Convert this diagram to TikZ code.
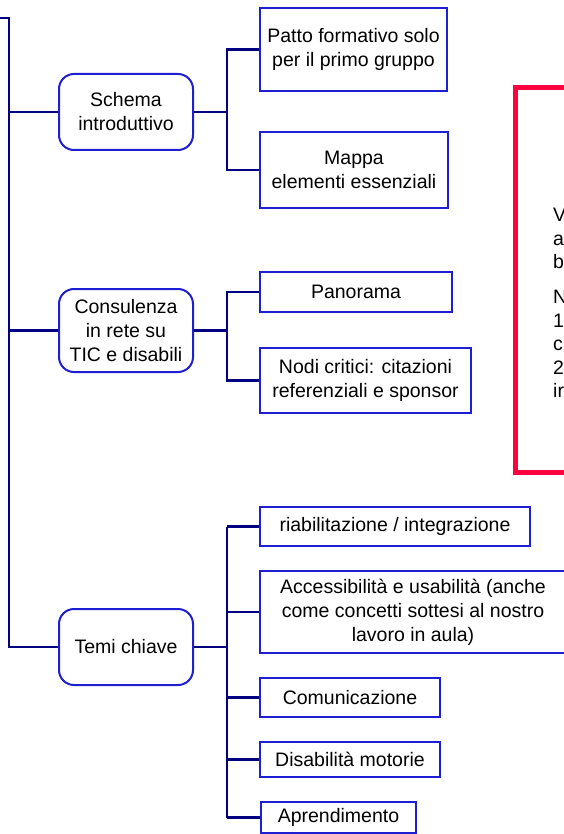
\documentclass[tikz,border=0pt]{standalone}
\usepackage{fontspec}
\setmainfont{Liberation Sans}

\definecolor{linenavy}{RGB}{0,0,128}
\definecolor{boxblue}{RGB}{30,30,210}
\definecolor{notered}{RGB}{255,0,64}

\begin{document}
\begin{tikzpicture}[x=1pt, y=-1pt,
    topic/.style={draw=boxblue, line width=2pt, rounded corners=15pt, align=center,
        minimum width=134pt, inner sep=0pt, font=\fontsize{19.5}{24}\selectfont},
    leaf/.style={draw=boxblue, line width=2pt, align=center, inner sep=0pt,
        font=\fontsize{19.5}{24}\selectfont},
    link/.style={draw=linenavy, line width=2.5pt}]
            \useasboundingbox (0,0) rectangle (563,834);

            % Main topics
            \node[topic, minimum height=76pt] (schema) at (126,112) {Schema\\introduttivo};
            \node[topic, minimum height=83pt] (consul) at (126,330.5) {Consulenza\\in rete su\\TIC e disabili};
            \node[topic, minimum height=76pt] (temi)   at (126,647) {Temi chiave};

            % Leaves
            \node[leaf, minimum width=187pt, minimum height=83pt] (patto)  at (353.5,49.5) {Patto formativo solo\\per il primo gruppo};
            \node[leaf, minimum width=188pt, minimum height=76pt] (mappa)  at (354,170)    {Mappa\\elementi essenziali};
            \node[leaf, minimum width=192pt, minimum height=40pt] (pano)   at (356,292)    {Panorama};
            \node[leaf, minimum width=211pt, minimum height=65pt] (nodi)   at (365.5,380.5) {Nodi critici: citazioni\\referenziali e sponsor};
            \node[leaf, minimum width=270pt, minimum height=39pt] (riab)   at (395,526.5)  {riabilitazione / integrazione};
            \node[leaf, minimum width=306pt, minimum height=82pt] (access) at (413,612)    {Accessibilità e usabilità (anche\\come concetti sottesi al nostro\\lavoro in aula)};
            \node[leaf, minimum width=180pt, minimum height=39pt] (comun)  at (350,697.5)  {Comunicazione};
            \node[leaf, minimum width=180pt, minimum height=35pt] (disab)  at (350,759.5)  {Disabilità motorie};
            \node[leaf, minimum width=155pt, minimum height=31pt] (apren)  at (338.5,817.5) {Aprendimento};

            % Note box
            \node[draw=notered, line width=5pt, anchor=north west, inner sep=0pt,
                minimum width=130pt, minimum height=385pt] (note) at (512.5,85) {};
            \node[anchor=north west, align=left, inner sep=0pt,
                font=\fontsize{19.5}{23.4}\selectfont] (notetext) at (553,208)
                {V\\a\\b\\[12pt]N\\1\\c\\2\\ir};

            % Root line
            \coordinate (root)  at (0,18);
            \coordinate (trunk) at (9,18);
            \coordinate (bx)    at (227,0);
            \draw[link] (root) -- (trunk) |- (temi.west);
            \draw[link] (trunk |- schema.west) -- (schema.west);
            \draw[link] (trunk |- consul.west) -- (consul.west);

            % Branches
            \draw[link] (schema.east) -- (schema.east -| bx);
            \draw[link] (patto.west) -| (bx |- mappa.west) -- (mappa.west);
            \draw[link] (consul.east) -- (consul.east -| bx);
            \draw[link] (pano.west) -| (bx |- nodi.west) -- (nodi.west);
            \draw[link] (temi.east) -- (temi.east -| bx);
            \draw[link] (riab.west -| bx) -- (apren.west -| bx);
            \foreach \leafname in {riab,access,comun,disab,apren}
                \draw[link] (\leafname.west -| bx) -- (\leafname.west);
\end{tikzpicture}
\end{document}
